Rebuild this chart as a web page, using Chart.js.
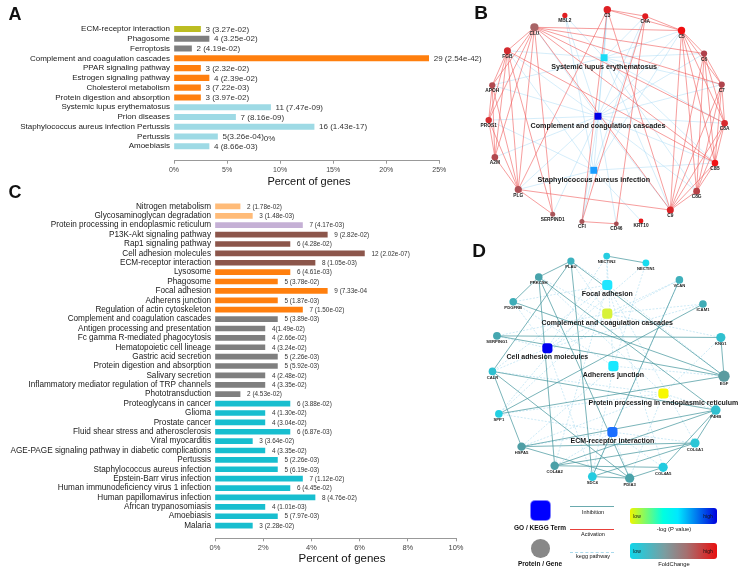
<!DOCTYPE html>
<html>
<head>
<meta charset="utf-8">
<script src="https://cdn.jsdelivr.net/npm/chart.js@4.4.0/dist/chart.umd.min.js"></script>
<style>
body { margin: 0; background: #fff; font-family: "Liberation Sans", Arial, sans-serif; }
#page { position: relative; width: 743px; height: 568px; overflow: hidden; }
canvas { position: absolute; }
.t { position: absolute; transform: translate(-50%, -50%); white-space: nowrap; line-height: 1; color: #111; }
.b { font-weight: bold; }
.box { position: absolute; }
</style>
</head>
<body>
<div id="page">
  <canvas id="chartA" width="490" height="195" style="left:0;top:0;width:490px;height:195px"></canvas>
  <canvas id="chartC" width="480" height="383" style="left:0;top:185px;width:480px;height:383px"></canvas>
  <canvas id="netB" width="273" height="245" style="left:470px;top:0;width:273px;height:245px"></canvas>
  <canvas id="netD" width="273" height="262" style="left:470px;top:238px;width:273px;height:262px"></canvas>

  <div class="t b" style="left:15px;top:14px;font-size:18px">A</div>
  <div class="t b" style="left:481px;top:12px;font-size:19px">B</div>
  <div class="t b" style="left:15px;top:192px;font-size:18px">C</div>
  <div class="t b" style="left:479px;top:250px;font-size:19px">D</div>

  <div class="t" style="left:309px;top:181px;font-size:11px">Percent of genes</div>
  <div class="t" style="left:342px;top:559px;font-size:11.5px">Percent of genes</div>

  <!-- legend of D -->
  <div class="box" style="left:531px;top:501px;width:19px;height:19px;background:#0000ff;border-radius:4px;box-shadow:0 0 0 1px #8080ff"></div>
  <div class="t b" style="left:540px;top:528px;font-size:6.5px">GO / KEGG Term</div>
  <div class="box" style="left:531px;top:539px;width:18.6px;height:18.6px;background:#888;border-radius:50%"></div>
  <div class="t b" style="left:540px;top:563.5px;font-size:6.5px">Protein / Gene</div>

  <div class="box" style="left:570px;top:506px;width:44px;height:1.3px;background:#6aaaae"></div>
  <div class="t" style="left:593px;top:512.5px;font-size:5.5px">Inhibition</div>
  <div class="box" style="left:570px;top:529px;width:44px;height:1px;background:#e8403a"></div>
  <div class="t" style="left:593px;top:534.5px;font-size:5.5px">Activation</div>
  <div class="box" style="left:570px;top:551.5px;width:44px;height:0;border-top:1px dashed #a9d9ec"></div>
  <div class="t" style="left:593px;top:557px;font-size:5.5px">kegg pathway</div>

  <div class="box" style="left:630px;top:507.7px;width:87px;height:16.3px;border-radius:3px;background:linear-gradient(to right,#eef500 0%,#00ffe0 38%,#00e8ff 55%,#0000dd 100%)"></div>
  <div class="t" style="left:637px;top:515.5px;font-size:5px">low</div>
  <div class="t" style="left:708px;top:515.5px;font-size:5px">high</div>
  <div class="t" style="left:674px;top:530px;font-size:5.8px">-log (P value)</div>
  <div class="box" style="left:630px;top:543.3px;width:87px;height:16px;border-radius:3px;background:linear-gradient(to right,#10d6ea 0%,#7b9da0 40%,#a57070 65%,#e81010 100%)"></div>
  <div class="t" style="left:637px;top:551px;font-size:5px">low</div>
  <div class="t" style="left:708px;top:551px;font-size:5px">high</div>
  <div class="t" style="left:674px;top:564.5px;font-size:5.8px">FoldChange</div>
</div>

<script>
// ---------- panel A ----------
const aCats = ['ECM-receptor interaction', 'Phagosome', 'Ferroptosis', 'Complement and coagulation cascades',
  'PPAR signaling pathway', 'Estrogen signaling pathway', 'Cholesterol metabolism', 'Protein digestion and absorption',
  'Systemic lupus erythematosus', 'Prion diseases', 'Staphylococcus aureus infection Pertussis', 'Pertussis', 'Amoebiasis'];
const aPct = [2.5, 3.3, 1.65, 24.0, 2.5, 3.3, 2.5, 2.5, 9.1, 5.8, 13.2, 4.1, 3.3];
const aLabels = ['3 (3.27e-02)', '4 (3.25e-02)', '2 (4.19e-02)', '29 (2.54e-42)', '3 (2.32e-02)', '4 (2.39e-02)',
  '3 (7.22e-03)', '3 (3.97e-02)', '11 (7.47e-09)', '7 (8.16e-09)', '16 (1.43e-17)', '5(3.26e-04)', '4 (8.66e-03)'];
const aColors = ['#bcbd22', '#7f7f7f', '#7f7f7f', '#ff7f0e', '#ff7f0e', '#ff7f0e', '#ff7f0e', '#ff7f0e',
  '#9edae5', '#9edae5', '#9edae5', '#9edae5', '#9edae5'];
const aTicks = [0, 5, 10, 15, 20, 25];

// ---------- panel C ----------
const cCats = ['Nitrogen metabolism', 'Glycosaminoglycan degradation', 'Protein processing in endoplasmic reticulum',
  'P13K-Akt signaling pathway', 'Rap1 signaling pathway', 'Cell adhesion molecules', 'ECM-receptor interaction',
  'Lysosome', 'Phagosome', 'Focal adhesion', 'Adherens junction', 'Regulation of actin cytoskeleton',
  'Complement and coagulation cascades', 'Antigen processing and presentation', 'Fc gamma R-mediated phagocytosis',
  'Hematopoietic cell lineage', 'Gastric acid secretion', 'Protein digestion and absorption', 'Salivary secretion',
  'Inflammatory mediator regulation of TRP channels', 'Phototransduction', 'Proteoglycans in cancer', 'Glioma',
  'Prostate cancer', 'Fluid shear stress and atherosclerosis', 'Viral myocarditis',
  'AGE-PAGE signaling pathway in diabetic complications', 'Pertussis', 'Staphylococcus aureus infection',
  'Epstein-Barr virus infection', 'Human immunodeficiency virus 1 infection', 'Human papillomavirus infection',
  'African trypanosomiasis', 'Amoebiasis', 'Malaria'];
const cPct = [1.04, 1.55, 3.63, 4.66, 3.11, 6.2, 4.15, 3.11, 2.59, 4.66, 2.59, 3.63, 2.59, 2.07, 2.07, 2.07,
  2.59, 2.59, 2.07, 2.07, 1.04, 3.11, 2.07, 2.07, 3.11, 1.55, 2.07, 2.59, 2.59, 3.63, 3.11, 4.15, 2.07, 2.59, 1.55];
const cLabels = ['2 (1.78e-02)', '3 (1.48e-03)', '7 (4.17e-03)', '9 (2.82e-02)', '6 (4.28e-02)', '12 (2.02e-07)',
  '8 (1.05e-03)', '6 (4.61e-03)', '5 (3.78e-02)', '9 (7.33e-04', '5 (1.87e-03)', '7 (1.50e-02)', '5 (3.89e-03)',
  '4(1.49e-02)', '4 (2.66e-02)', '4 (3.24e-02)', '5 (2.26e-03)', '5 (5.92e-03)', '4 (2.48e-02)', '4 (3.35e-02)',
  '2 (4.53e-02)', '6 (3.88e-02)', '4 (1.30e-02)', '4 (3.04e-02)', '6 (6.87e-03)', '3 (3.64e-02)', '4 (3.35e-02)',
  '5 (2.26e-03)', '5 (6.19e-03)', '7 (1.12e-02)', '6 (4.45e-02)', '8 (4.76e-02)', '4 (1.01e-03)', '5 (7.97e-03)',
  '3 (2.28e-02)'];
const cColors = ['#ffbb78', '#ffbb78', '#c5b0d5', '#8c564b', '#8c564b', '#8c564b', '#8c564b',
  '#ff7f0e', '#ff7f0e', '#ff7f0e', '#ff7f0e', '#ff7f0e',
  '#7f7f7f', '#7f7f7f', '#7f7f7f', '#7f7f7f', '#7f7f7f', '#7f7f7f', '#7f7f7f', '#7f7f7f', '#7f7f7f',
  '#17becf', '#17becf', '#17becf', '#17becf', '#17becf', '#17becf', '#17becf', '#17becf', '#17becf',
  '#17becf', '#17becf', '#17becf', '#17becf', '#17becf'];

// ---------- panel B network ----------
const bGenes = ['MBL2', 'C3', 'C4A', 'C5', 'C6', 'C7', 'C8A', 'C8B', 'C8G', 'C9', 'KRT10', 'CD46', 'CFI',
  'SERPIND1', 'PLG', 'A2M', 'PROS1', 'APOH', 'FGB', 'CLU'];
const bGeneX = [563.3, 607.3, 646.7, 684.3, 707.7, 726, 729, 719, 700, 672.7, 642.3, 616.7, 581, 550.7, 515,
  490.7, 484.3, 488, 503.7, 531.7];
const bGeneY = [11, 5, 11.7, 26.7, 50.7, 83, 123.3, 164.7, 194, 213.7, 225, 228, 225.7, 218, 192.3, 158.7,
  120, 83.7, 47.7, 23.3];
const bGeneSize = [2.6, 3.7, 3, 3.7, 3.1, 3.1, 3.3, 3.3, 3.4, 3.5, 2.4, 2.4, 2.5, 2.5, 3.6, 3.3, 3.2, 3.1, 3.5, 4.1];
const bGeneColor = ['#e01e22', '#de2024', '#e01c20', '#f00e10', '#b0404a', '#b0454d', '#d82a2e', '#f01215',
  '#b84146', '#d92428', '#e8181b', '#a84c52', '#a85659', '#a85459', '#ad5056', '#b0484e', '#d62e31',
  '#b24a50', '#d32b2f', '#a86466'];
const bTerms = ['Systemic lupus erythematosus', 'Complement and coagulation cascades', 'Staphylococcus aureus infection'];
const bTermX = [604, 597.7, 593.3];
const bTermY = [55, 116, 172.3];
const bTermColor = ['#1adcf6', '#0000e6', '#1a9dff'];
const bGeneEdges = [['C3', 'C4A'], ['C3', 'C5'], ['C4A', 'C5'], ['C5', 'C6'], ['C5', 'C7'], ['C5', 'C8A'],
  ['C5', 'C8B'], ['C5', 'C8G'], ['C5', 'C9'], ['C6', 'C7'], ['C6', 'C8A'], ['C6', 'C8B'], ['C6', 'C8G'], ['C6', 'C9'],
  ['C7', 'C8A'], ['C7', 'C8B'], ['C7', 'C8G'], ['C7', 'C9'], ['C8A', 'C8B'], ['C8A', 'C8G'], ['C8A', 'C9'],
  ['C8B', 'C8G'], ['C8B', 'C9'], ['C8G', 'C9'], ['CLU', 'C5'], ['CLU', 'C6'], ['CLU', 'C7'], ['CLU', 'C8A'],
  ['CLU', 'C8B'], ['CLU', 'C9'], ['CLU', 'FGB'], ['CLU', 'APOH'], ['CLU', 'PROS1'], ['CLU', 'A2M'], ['CLU', 'PLG'],
  ['CLU', 'SERPIND1'], ['FGB', 'APOH'], ['FGB', 'PROS1'], ['FGB', 'A2M'], ['FGB', 'PLG'], ['FGB', 'SERPIND1'],
  ['FGB', 'C8B'], ['APOH', 'PROS1'], ['APOH', 'A2M'], ['APOH', 'PLG'], ['PROS1', 'A2M'], ['PROS1', 'PLG'],
  ['A2M', 'PLG'], ['PLG', 'C9'], ['PLG', 'C3'], ['PLG', 'SERPIND1'], ['CFI', 'CD46'], ['CFI', 'C3'],
  ['CD46', 'C4A'], ['C4A', 'CFI'], ['C3', 'C9']];
const bTermEdges = [
  ['Systemic lupus erythematosus', ['C3', 'C4A', 'C5', 'C6', 'C7', 'C8A', 'C8B', 'C8G', 'C9', 'MBL2', 'FGB', 'APOH']],
  ['Complement and coagulation cascades', ['C3', 'C4A', 'C5', 'C6', 'C7', 'C8A', 'C8B', 'C8G', 'C9', 'MBL2', 'CLU',
    'FGB', 'PROS1', 'A2M', 'PLG', 'SERPIND1', 'CFI', 'CD46', 'APOH']],
  ['Staphylococcus aureus infection', ['C3', 'C4A', 'C5', 'MBL2', 'FGB', 'PLG', 'CFI', 'KRT10', 'PROS1', 'C8B']]];

// ---------- panel D network ----------
const dGenes = ['NECTIN2', 'NECTIN1', 'PLAU', 'PRKCSH', 'PDGFRB', 'VCAN', 'ICAM1', 'SERPING1', 'KNG1', 'CALR',
  'EGF', 'SPP1', 'P4HB', 'HSPA5', 'COL6A1', 'COL4A2', 'COL4A5', 'SDC4', 'PDIA3'];
const dGeneX = [606.7, 647.7, 569.3, 535.7, 509, 682.7, 707.3, 492, 726, 487.3, 729.3, 494, 720.7, 517.7, 699,
  552.3, 665.7, 591.7, 630.7];
const dGeneY = [250.7, 258, 256, 272.7, 298.7, 275.7, 301, 334.3, 336, 371.5, 376.5, 416, 412, 450.3, 446.5,
  470.3, 472, 481.7, 483.3];
const dGeneSize = [3.4, 3.4, 3.6, 3.8, 3.8, 3.8, 3.8, 3.9, 4.6, 3.8, 5.7, 3.8, 4.8, 4.2, 4.6, 4.2, 4.6, 4.4, 4.6];
const dGeneColor = ['#27cde0', '#18dcef', '#3db2bf', '#48a3ab', '#3dadb8', '#3fb0bb', '#40acb6', '#45a7b0',
  '#30c0cf', '#2ebfcf', '#5b9ba0', '#22cfe2', '#30bfcf', '#4e9ea5', '#2cc6d6', '#4aa0a7', '#22cbe0', '#24cbe0',
  '#4aa3aa'];
const dTerms = ['Focal adhesion', 'Complement and coagulation cascades', 'Cell adhesion molecules',
  'Adherens junction', 'Protein processing in endoplasmic reticulum', 'ECM-receptor interaction'];
const dTermX = [607.3, 607.3, 544.7, 613.7, 666, 612.7];
const dTermY = [281, 311, 347.3, 366, 394.7, 435];
const dTermColor = ['#1ee6ff', '#d8f23a', '#0000f0', '#19e8ff', '#f8f800', '#1a6eff'];
const dGeneEdges = [['NECTIN2', 'NECTIN1'], ['PLAU', 'PRKCSH'], ['PLAU', 'CALR'], ['PLAU', 'EGF'],
  ['PRKCSH', 'PDGFRB'], ['PRKCSH', 'P4HB'], ['PRKCSH', 'PDIA3'], ['PRKCSH', 'COL4A2'], ['PDGFRB', 'EGF'],
  ['SERPING1', 'KNG1'], ['SERPING1', 'EGF'], ['KNG1', 'EGF'], ['CALR', 'P4HB'], ['CALR', 'HSPA5'],
  ['CALR', 'PDIA3'], ['SPP1', 'EGF'], ['SPP1', 'ICAM1'], ['VCAN', 'SDC4'], ['HSPA5', 'P4HB'], ['HSPA5', 'PDIA3'],
  ['HSPA5', 'COL6A1'], ['COL4A2', 'COL6A1'], ['COL4A2', 'COL4A5'], ['COL4A2', 'P4HB'], ['COL4A5', 'P4HB'],
  ['COL6A1', 'P4HB'], ['SDC4', 'COL6A1'], ['SDC4', 'PLAU'], ['SDC4', 'PDIA3'], ['COL4A5', 'PDIA3']];
const dTermEdges = [
  ['Focal adhesion', ['PDGFRB', 'EGF', 'SPP1', 'COL6A1', 'COL4A2', 'COL4A5', 'PLAU', 'NECTIN2', 'CALR']],
  ['Complement and coagulation cascades', ['PLAU', 'KNG1', 'SERPING1', 'VCAN', 'ICAM1', 'PRKCSH', 'SPP1']],
  ['Cell adhesion molecules', ['NECTIN1', 'NECTIN2', 'ICAM1', 'SDC4', 'VCAN', 'PDGFRB', 'CALR', 'SERPING1']],
  ['Adherens junction', ['NECTIN1', 'NECTIN2', 'EGF', 'PDGFRB', 'SDC4', 'HSPA5']],
  ['Protein processing in endoplasmic reticulum', ['CALR', 'HSPA5', 'P4HB', 'PDIA3', 'PRKCSH', 'SPP1', 'KNG1']],
  ['ECM-receptor interaction', ['COL6A1', 'COL4A2', 'COL4A5', 'SDC4', 'SPP1', 'HSPA5', 'PDIA3', 'VCAN']]];

const FONT = '"Liberation Sans", Arial, sans-serif';

// text after each bar
const barLabels = {
  id: 'barLabels',
  afterDatasetsDraw(chart, args, opts) {
    const ctx = chart.ctx;
    const meta = chart.getDatasetMeta(0);
    ctx.save();
    ctx.font = opts.size + 'px ' + FONT;
    ctx.fillStyle = '#333';
    ctx.textBaseline = 'middle';
    meta.data.forEach((bar, i) => {
      ctx.fillText(opts.labels[i], bar.x + opts.gap, bar.y + 0.5);
    });
    if (opts.extra) {
      // stray "0%" printed over the Pertussis label in the original
      const bar = meta.data[opts.extra.index];
      ctx.fillText(opts.extra.text, bar.x + opts.gap + ctx.measureText(opts.labels[opts.extra.index]).width, bar.y + 2);
    }
    ctx.restore();
  }
};

function barChart(id, cats, pct, labels, colors, o) {
  return new Chart(document.getElementById(id), {
    type: 'bar',
    data: {
      datasets: [{
        data: pct.map((v, i) => ({ x: v, y: i })),
        backgroundColor: colors,
        barThickness: o.thick,
        borderWidth: 0
      }]
    },
    options: {
      indexAxis: 'y',
      responsive: false,
      animation: false,
      events: [],
      layout: { padding: { top: o.top, right: o.right, left: 0, bottom: 0 } },
      plugins: {
        legend: { display: false },
        tooltip: { enabled: false },
        barLabels: { labels: labels, size: o.valSize, gap: o.gap, extra: o.extra }
      },
      scales: {
        y: {
          type: 'linear', reverse: true, min: o.ymin, max: o.ymax,
          afterBuildTicks: s => { s.ticks = cats.map((c, i) => ({ value: i })); },
          afterFit: s => { s.width = o.axisW; },
          ticks: { autoSkip: false, callback: v => cats[v], color: '#1a1a1a', padding: 4,
            font: { size: o.catSize, family: FONT } },
          grid: { display: false, drawTicks: false },
          border: { display: false }
        },
        x: {
          type: 'linear', min: 0, max: o.xmax,
          afterBuildTicks: s => { s.ticks = o.xticks.map(v => ({ value: v })); },
          afterFit: s => { s.height = o.axisH; },
          ticks: { callback: v => v + '%', color: '#444', padding: 2, font: { size: o.tickSize, family: FONT } },
          grid: { display: true, drawOnChartArea: false, drawTicks: true, tickLength: 3, color: '#999' },
          border: { display: true, color: '#999', width: 1 }
        }
      }
    },
    plugins: [barLabels]
  });
}

barChart('chartA', aCats, aPct, aLabels, aColors, {
  thick: 5.4, top: 18, right: 50.7, ymin: -0.567, ymax: 12.917, axisW: 174, axisH: 34.3,
  xmax: 25, xticks: aTicks, catSize: 8, tickSize: 7, valSize: 8, gap: 5,
  extra: { index: 11, text: '0%' }
});
barChart('chartC', cCats, cPct, cLabels, cColors, {
  thick: 5, top: 11, right: 24, ymin: -0.59, ymax: 34.83, axisW: 215, axisH: 29.7,
  xmax: 10, xticks: [0, 2, 4, 6, 8, 10], catSize: 8.2, tickSize: 7.5, valSize: 6.4, gap: 7
});

// node labels for the networks
const netLabels = {
  id: 'netLabels',
  afterDatasetsDraw(chart, args, opts) {
    const ctx = chart.ctx;
    ctx.save();
    ctx.textAlign = 'center';
    ctx.textBaseline = 'middle';
    ctx.fillStyle = '#1a1a1a';
    [['genes', 0], ['terms', 1]].forEach(([k, di]) => {
      const meta = chart.getDatasetMeta(di);
      const o = opts[k];
      ctx.font = 'bold ' + o.size + 'px ' + FONT;
      meta.data.forEach((pt, i) => {
        const r = pt.options.radius * o.k;
        ctx.fillText(o.names[i], pt.x, pt.y + r + o.gap);
      });
    });
    ctx.restore();
  }
};

function netChart(id, xr, yr, n, edgeStyle) {
  const pos = {};
  n.genes.forEach((g, i) => { pos[g] = { x: n.gx[i], y: n.gy[i] }; });
  n.terms.forEach((t, i) => { pos[t] = { x: n.tx[i], y: n.ty[i] }; });
  const datasets = [
    { data: n.genes.map(g => pos[g]), pointRadius: n.gs, pointBackgroundColor: n.gc, pointBorderWidth: 0 },
    { data: n.terms.map(t => pos[t]), pointRadius: n.termR, pointStyle: n.termShape,
      pointBackgroundColor: n.tc, pointBorderWidth: 0 }
  ];
  n.geneEdges.forEach(([a, b]) => {
    datasets.push({ data: [pos[a], pos[b]], showLine: true, pointRadius: 0,
      borderColor: edgeStyle.gene.color, borderWidth: edgeStyle.gene.width, borderDash: edgeStyle.gene.dash });
  });
  n.termEdges.forEach(([t, list]) => {
    list.forEach(g => {
      datasets.push({ data: [pos[t], pos[g]], showLine: true, pointRadius: 0,
        borderColor: edgeStyle.term.color, borderWidth: edgeStyle.term.width, borderDash: edgeStyle.term.dash });
    });
  });
  return new Chart(document.getElementById(id), {
    type: 'scatter',
    data: { datasets },
    options: {
      responsive: false, animation: false, events: [],
      layout: { padding: 0 },
      plugins: {
        legend: { display: false }, tooltip: { enabled: false },
        netLabels: n.labels
      },
      scales: {
        x: { display: false, min: xr[0], max: xr[1] },
        y: { display: false, min: yr[0], max: yr[1], reverse: true }
      }
    },
    plugins: [netLabels]
  });
}

netChart('netB', [470, 743], [0, 245], {
  genes: bGenes, gx: bGeneX, gy: bGeneY, gs: bGeneSize, gc: bGeneColor,
  terms: bTerms, tx: bTermX, ty: bTermY, tc: bTermColor, termR: 4.9, termShape: 'rect',
  geneEdges: bGeneEdges, termEdges: bTermEdges,
  labels: { genes: { names: bGenes, size: 4.8, gap: 2.6, k: 1 }, terms: { names: bTerms, size: 7.2, gap: 5.8, k: 0.707 } }
}, {
  gene: { color: 'rgba(240,90,90,0.85)', width: 0.7, dash: [] },
  term: { color: 'rgba(160,214,244,0.75)', width: 0.6, dash: [] }
});

netChart('netD', [470, 743], [238, 500], {
  genes: dGenes, gx: dGeneX, gy: dGeneY, gs: dGeneSize, gc: dGeneColor,
  terms: dTerms, tx: dTermX, ty: dTermY, tc: dTermColor, termR: 5.9, termShape: 'rectRounded',
  geneEdges: dGeneEdges, termEdges: dTermEdges,
  labels: { genes: { names: dGenes, size: 4.2, gap: 2.2, k: 1 }, terms: { names: dTerms, size: 7, gap: 4.2, k: 0.86 } }
}, {
  gene: { color: 'rgba(70,150,158,0.9)', width: 0.8, dash: [] },
  term: { color: 'rgba(150,210,236,0.8)', width: 0.6, dash: [2, 1.5] }
});
</script>
</body>
</html>
